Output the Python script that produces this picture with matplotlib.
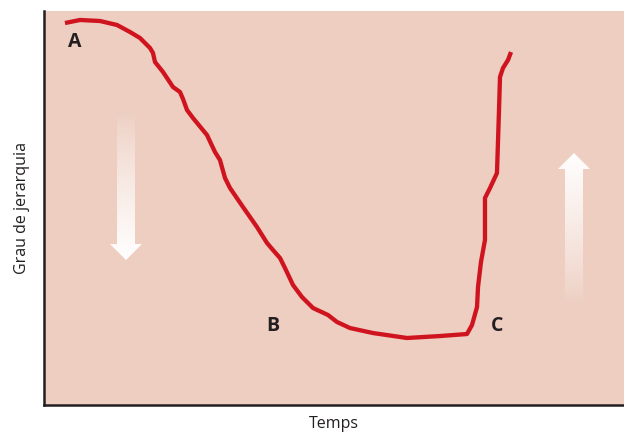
import numpy as np
import matplotlib
matplotlib.use('Agg')
import matplotlib.pyplot as plt
from matplotlib.patches import Polygon

# corba (temps, grau de jerarquia), llegida de la imatge en escala 0-100
temps = [3.62, 6.21, 9.66, 12.59, 14.83, 16.55, 18.28, 18.79, 19.14, 20.52,
         22.24, 23.45, 23.97, 24.66, 25.69, 28.10, 29.48, 30.34, 31.21, 32.07,
         34.31, 36.72, 38.45, 39.48, 40.69, 41.55, 42.93, 44.48, 46.38, 48.97,
         50.52, 52.76, 56.72, 62.59, 68.28, 72.93, 73.79, 74.66, 74.83, 75.34,
         76.03, 76.03, 76.90, 78.10, 78.45, 78.62, 79.14, 80.00, 80.52]
jerarquia = [96.95, 97.72, 97.46, 96.45, 94.67, 93.15, 90.61, 89.34, 87.06, 84.52,
             80.71, 79.44, 77.66, 74.87, 72.84, 68.53, 64.21, 62.18, 57.61, 55.08,
             50.25, 45.18, 41.12, 39.34, 37.31, 34.77, 30.46, 27.41, 24.62, 22.84,
             21.07, 19.54, 18.27, 17.01, 17.51, 18.02, 20.30, 24.87, 29.95, 36.29,
             41.88, 52.54, 55.08, 58.88, 74.87, 83.25, 85.53, 87.56, 89.59]

etiquetes = ['A', 'B', 'C']
etiq_x = [5.34, 39.48, 78.10]
etiq_y = [92.13, 20.05, 20.05]

fons = '#EDCEC1'
vermell = '#D0141F'
fosc = '#231F20'

plt.rcParams['font.family'] = ['Open Sans', 'DejaVu Sans']

fig = plt.figure(figsize=(6.24, 4.40), dpi=100)
ax = fig.add_axes([0.0705, 0.0795, 0.9295, 0.8955])
ax.set_facecolor(fons)
ax.set_xlim(0, 100)
ax.set_ylim(0, 100)

for s in ['top', 'right']:
    ax.spines[s].set_visible(False)
for s in ['left', 'bottom']:
    ax.spines[s].set_color(fosc)
    ax.spines[s].set_linewidth(1.8)
ax.set_xticks([])
ax.set_yticks([])


def fletxa(x0, x1, hx0, hx1, ybase, ycap, ypunta, amunt):
    xm = (hx0 + hx1) / 2
    pts = [(x0, ybase), (x0, ycap), (hx0, ycap), (xm, ypunta),
           (hx1, ycap), (x1, ycap), (x1, ybase)]
    poly = Polygon(pts, closed=True, facecolor='none', edgecolor='none')
    ax.add_patch(poly)
    n = 200
    grad = np.zeros((n, 1, 4))
    grad[:, 0, :3] = 1.0
    a = np.linspace(0, 1, n) ** 0.8
    # imatge amb origin='lower': fila 0 a baix
    if amunt:
        grad[:, 0, 3] = a
    else:
        grad[:, 0, 3] = a[::-1]
    lo, hi = min(ybase, ypunta), max(ybase, ypunta)
    im = ax.imshow(grad, extent=[hx0, hx1, lo, hi], origin='lower',
                   aspect='auto', zorder=1)
    im.set_clip_path(poly)


fletxa(12.59, 15.69, 11.38, 16.90, 74.11, 40.86, 36.80, amunt=False)
fletxa(89.83, 92.93, 88.62, 94.14, 25.89, 59.90, 63.96, amunt=True)

ax.plot(temps, jerarquia, color=vermell, lw=3.1, solid_capstyle='butt',
        solid_joinstyle='round', zorder=3)

for t, x, y in zip(etiquetes, etiq_x, etiq_y):
    ax.text(x, y, t, fontsize=14, fontweight='bold', color=fosc,
            ha='center', va='center', zorder=4)

ax.set_xlabel('Temps', fontsize=11.5, color=fosc, labelpad=8)
ax.set_ylabel('Grau de jerarquia', fontsize=11.5, color=fosc, labelpad=10)

fig.savefig('out.png', dpi=100, facecolor='white')
